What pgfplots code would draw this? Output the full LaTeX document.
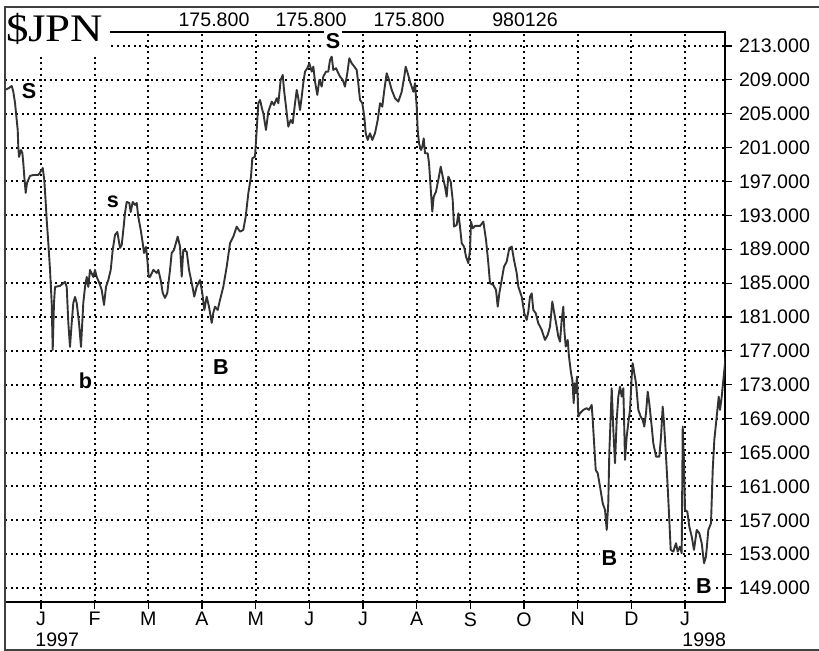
\documentclass[border=0pt]{standalone}
\usepackage{pgfplots}
\pgfplotsset{compat=1.18}
\usepackage{fontspec}
\setmainfont{Liberation Sans}
\newfontfamily\seriffont{Liberation Serif}
\newcommand\tf{\fontsize{9.8pt}{11pt}\selectfont}
\newcommand\af{\fontsize{10.8pt}{12pt}\selectfont\bfseries}
\begin{document}
\begin{tikzpicture}
\path[use as bounding box] (0pt,0pt) rectangle (409.5pt,325.5pt);
\begin{axis}[
  at={(2.5pt,24.5pt)}, anchor=south west,
  width=360pt, height=285pt, scale only axis,
  xmin=-0.671, xmax=12.745, ymin=147.35, ymax=214.65,
  axis line style={black, line width=0.6pt},
  xtick={0,...,12}, xticklabels={J,F,M,A,M,J,J,A,S,O,N,D,J},
  ytick={149,153,...,213},
  ytick pos=right, yticklabel pos=right, xtick pos=bottom,
  tick align=outside, major tick length=3.5pt,
  tick style={black, line width=0.6pt},
  grid=major,
  major grid style={black, line width=1pt, dash pattern=on 1pt off 1.8pt},
  /pgf/number format/assume math mode=true,
  yticklabel style={/pgf/number format/fixed, /pgf/number format/fixed zerofill, /pgf/number format/precision=3, font=\tf},
  xticklabel style={font=\tf, inner sep=1.5pt},
]
\addplot[color=black!80, line width=0.95pt, line join=round, mark=none] table {
x y
-0.671 207.81
-0.596 208.04
-0.546 208.28
-0.516 207.60
-0.484 206.27
-0.466 205.09
-0.434 203.08
-0.423 201.08
-0.410 199.90
-0.373 200.72
-0.348 200.37
-0.330 199.19
-0.311 197.53
-0.285 195.65
-0.261 196.83
-0.205 197.65
-0.143 197.77
-0.050 197.77
0.013 198.36
0.032 198.60
0.061 197.18
0.088 194.47
0.106 192.46
0.136 189.74
0.168 186.56
0.199 182.66
0.218 177.11
0.242 182.66
0.261 184.55
0.354 184.67
0.447 185.14
0.479 184.55
0.509 180.30
0.540 177.46
0.572 180.30
0.602 182.66
0.634 183.37
0.665 182.66
0.708 180.30
0.745 177.46
0.788 182.66
0.820 184.55
0.852 185.73
0.881 184.55
0.913 186.56
0.975 185.73
1.006 186.56
1.038 185.73
1.086 185.02
1.131 184.19
1.174 182.42
1.211 184.55
1.254 185.37
1.299 186.56
1.336 188.92
1.379 190.69
1.422 191.04
1.472 189.15
1.504 189.51
1.534 191.28
1.565 193.28
1.597 194.58
1.645 194.47
1.671 193.40
1.709 194.58
1.752 194.23
1.783 194.47
1.813 192.81
1.858 191.28
1.895 189.74
1.919 188.56
1.956 189.27
1.981 187.74
2.007 185.73
2.031 185.73
2.093 186.56
2.156 186.20
2.186 186.56
2.230 185.37
2.268 183.84
2.310 183.25
2.353 183.84
2.404 186.56
2.435 188.56
2.478 188.92
2.547 190.49
2.590 189.31
2.622 185.76
2.651 188.92
2.715 188.72
2.758 186.56
2.808 185.02
2.856 183.40
2.901 184.58
2.963 185.37
3.005 183.84
3.043 181.83
3.087 183.40
3.130 182.22
3.181 180.30
3.210 181.48
3.242 182.22
3.292 181.83
3.335 183.01
3.397 184.58
3.460 186.94
3.522 189.71
3.583 190.49
3.646 191.67
3.708 191.08
3.769 191.28
3.814 192.85
3.863 195.61
3.913 197.57
3.937 199.74
3.987 199.93
4.019 203.08
4.049 206.24
4.081 206.63
4.124 205.44
4.142 205.06
4.192 203.08
4.235 205.24
4.299 206.42
4.341 206.03
4.392 206.83
4.422 206.24
4.466 208.99
4.504 209.58
4.528 207.81
4.565 205.83
4.608 203.47
4.653 204.26
4.690 203.87
4.733 206.24
4.765 207.81
4.794 206.83
4.826 205.44
4.858 207.01
4.887 208.60
4.919 209.97
4.962 210.37
4.999 210.96
5.044 209.97
5.074 210.56
5.106 208.79
5.148 207.22
5.186 208.99
5.230 208.20
5.260 209.38
5.310 209.97
5.353 209.97
5.385 211.35
5.417 211.74
5.446 210.17
5.497 210.37
5.540 209.78
5.571 209.38
5.622 208.99
5.664 208.20
5.707 209.78
5.745 211.55
5.789 210.96
5.838 210.56
5.882 210.17
5.912 208.60
5.944 206.63
5.987 206.24
6.024 204.65
6.050 202.69
6.087 201.90
6.130 202.69
6.173 201.90
6.223 202.69
6.274 204.26
6.317 206.24
6.359 205.83
6.397 207.81
6.441 209.78
6.484 208.99
6.535 207.81
6.596 206.83
6.658 206.42
6.721 207.60
6.769 209.38
6.795 210.56
6.833 209.78
6.876 208.79
6.907 208.20
6.937 207.60
6.969 208.60
7.000 205.83
7.019 203.08
7.043 201.51
7.081 200.72
7.105 201.11
7.131 202.10
7.155 200.33
7.205 200.33
7.230 199.15
7.267 195.61
7.291 193.44
7.317 195.21
7.360 195.80
7.403 197.18
7.448 198.75
7.485 197.57
7.528 196.39
7.559 195.21
7.589 197.57
7.634 196.98
7.671 194.82
7.695 191.67
7.746 191.87
7.776 193.25
7.807 191.67
7.839 189.71
7.882 189.31
7.919 188.13
7.962 187.35
7.994 188.92
8.012 192.26
8.044 191.48
8.087 191.75
8.180 191.75
8.242 192.26
8.292 190.10
8.335 187.35
8.366 184.98
8.428 184.78
8.478 184.19
8.510 182.22
8.540 183.80
8.584 185.37
8.627 186.94
8.677 187.53
8.726 189.12
8.771 189.31
8.813 187.74
8.864 186.17
8.894 184.58
8.957 183.40
9.005 181.44
9.050 180.65
9.080 181.63
9.111 183.40
9.143 183.80
9.173 181.83
9.218 181.44
9.266 180.26
9.330 179.47
9.391 178.29
9.441 178.88
9.484 179.86
9.527 182.81
9.564 181.44
9.609 179.86
9.639 178.68
9.671 178.09
9.702 180.65
9.732 182.22
9.751 179.47
9.777 177.50
9.814 178.29
9.838 176.32
9.876 174.36
9.900 173.57
9.926 170.82
9.937 173.18
9.963 172.00
9.987 173.96
10.012 169.24
10.043 169.64
10.105 170.03
10.168 170.23
10.211 170.03
10.261 170.62
10.280 168.85
10.310 165.69
10.336 162.94
10.373 162.55
10.416 160.97
10.466 159.01
10.509 158.22
10.541 155.86
10.570 159.01
10.589 164.92
10.615 169.24
10.634 172.59
10.664 167.67
10.695 163.73
10.727 168.85
10.757 171.60
10.789 172.78
10.820 171.60
10.850 172.59
10.882 164.12
10.913 166.87
10.943 168.46
10.975 170.03
11.006 173.96
11.025 175.54
11.055 174.36
11.087 173.18
11.130 170.03
11.174 169.24
11.211 168.85
11.241 168.06
11.273 169.64
11.305 172.19
11.334 170.82
11.379 168.06
11.409 166.09
11.460 164.51
11.521 164.51
11.553 166.87
11.584 170.42
11.609 168.46
11.646 164.51
11.677 160.97
11.707 157.04
11.733 153.50
11.782 153.30
11.832 154.29
11.864 153.30
11.906 153.89
11.938 153.11
11.957 168.06
11.981 163.73
12.000 158.22
12.043 158.02
12.080 156.25
12.125 155.07
12.167 153.50
12.218 155.86
12.266 155.47
12.311 154.29
12.354 151.93
12.391 152.71
12.434 155.86
12.484 156.65
12.516 162.94
12.546 166.49
12.590 169.24
12.628 171.60
12.652 170.03
12.684 171.60
12.714 173.57
12.745 175.54
12.760 176.40
};
\end{axis}
% title box
\fill[white] (2.9pt,298pt) rectangle (55pt,321.5pt);
\node[anchor=base west, inner sep=0pt, xscale=1.15] at (2.8pt,304.5pt) {\seriffont\fontsize{19.5pt}{22pt}\selectfont \$JPN};
% outer frame
\draw[black!75, line width=0.8pt] (409.5pt,322pt) -- (2.5pt,322pt) -- (2.5pt,0.5pt) -- (409.5pt,0.5pt);
% top labels
\node[font=\tf] at (107pt,315.5pt) {175.800};
\node[font=\tf] at (155.5pt,315.5pt) {175.800};
\node[font=\tf] at (204.5pt,315.5pt) {175.800};
\node[font=\tf] at (262.5pt,315.5pt) {980126};
% years
\node[font=\tf, anchor=west, inner sep=0pt] at (17.5pt,5.4pt) {1997};
\node[font=\tf, anchor=west, inner sep=0pt] at (341pt,5.4pt) {1998};
% annotations
\node[font=\af, fill=white, inner sep=1pt] at (14.5pt,280pt) {S};
\node[font=\af, fill=white, inner sep=1pt] at (56.5pt,224.5pt) {s};
\node[font=\af, fill=white, inner sep=1pt] at (42.75pt,135pt) {b};
\node[font=\af, fill=white, inner sep=1pt] at (110.5pt,141.75pt) {B};
\node[font=\af, fill=white, inner sep=1pt] at (166.5pt,305pt) {S};
\node[font=\af, fill=white, inner sep=1pt] at (304.75pt,46.25pt) {B};
\node[font=\af, fill=white, inner sep=1pt] at (352pt,32.25pt) {B};
\end{tikzpicture}
\end{document}
